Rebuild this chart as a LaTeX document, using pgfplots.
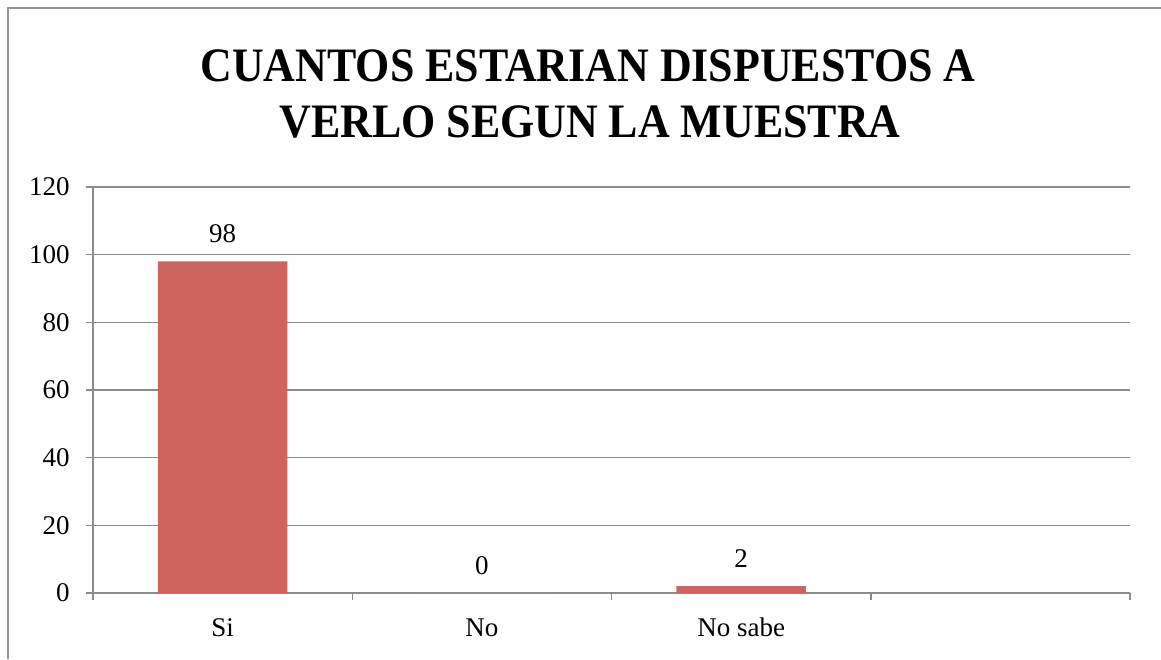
\documentclass[border=0pt]{standalone}
\usepackage{pgfplots}
\pgfplotsset{compat=1.18}
\usepackage{fontspec}
\setmainfont{Liberation Serif}
\definecolor{barred}{RGB}{205,100,95}
\definecolor{gridgray}{RGB}{140,140,140}
\definecolor{framegray}{RGB}{150,150,150}
\begin{document}
\begin{tikzpicture}[x=1pt,y=1pt]
\useasboundingbox (0,0) rectangle (580.5,329.5);
\fill[white] (0,0) rectangle (580.5,329.5);
\draw[framegray, line width=1pt] (4,0) -- (4,325.5) -- (580.5,325.5);
\node[font=\fontsize{24}{28}\selectfont\bfseries, anchor=base, inner sep=0pt] at (294,288.5) {\scalebox{0.915}[1]{CUANTOS ESTARIAN DISPUESTOS A}};
\node[font=\fontsize{24}{28}\selectfont\bfseries, anchor=base, inner sep=0pt] at (295,260.5) {\scalebox{0.915}[1]{VERLO SEGUN LA MUESTRA}};
\begin{axis}[
  at={(46.5pt,33pt)}, anchor=south west,
  scale only axis, width=518.5pt, height=203pt,
  xmin=-0.5, xmax=3.5, ymin=0, ymax=120,
  ytick={0,20,...,120},
  xtick={-0.5,0.5,1.5,2.5,3.5},
  xticklabels={Si,No,No sabe,{}},
  x tick label as interval,
  axis lines*=left,
  axis line style={gridgray, line width=0.75pt},
  ymajorgrids, grid style={gridgray, line width=0.75pt},
  tick style={gridgray, line width=0.75pt},
  tick align=outside, major tick length=3.5pt,
  /pgf/number format/assume math mode=true,
  tick label style={font=\fontsize{13.5}{16}\selectfont, text=black},
  yticklabel style={anchor=east, inner sep=0pt, xshift=-8pt},
  xticklabel style={anchor=base, inner sep=0pt, yshift=-18pt},
  clip=false,
]
\addplot[ybar, bar width=0.5, bar shift=0pt, fill=barred, draw=none,
  nodes near coords,
  every node near coord/.append style={anchor=base, inner sep=0pt, yshift=9.5pt, font=\fontsize{13.5}{16}\selectfont, text=black}]
  coordinates {(0,98) (1,0) (2,2)};
\end{axis}
\end{tikzpicture}
\end{document}
